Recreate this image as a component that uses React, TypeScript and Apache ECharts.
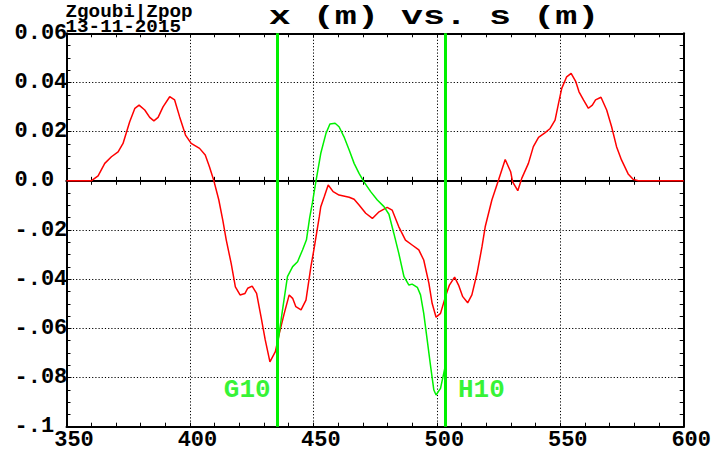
import React, { useEffect, useRef } from 'react';
import * as echarts from 'echarts';

// Horizontal orbit x (m) along the path length s (m)
const sRed = [
  350, 360, 362.8, 365.5, 368.2, 370.9, 372.9, 375.6, 377.7, 379.4, 381.7, 383.7, 385.4, 387.1,
  389.1, 391.8, 393.8, 395.8, 398.2, 400.5, 403.9, 406.2, 407.9, 409.7, 411.7, 413.3, 414.7,
  416.7, 418.4, 420.3, 422.3, 423.4, 425.2, 427.0, 428.8, 430.5, 432.4, 434.6, 436.2, 438.2,
  440.2, 441.6, 442.9, 445.0, 447.0, 449.0, 450.3, 452.4, 453.0, 454.4, 456.0, 458.0, 460.4,
  464.5, 466.5, 468.5, 471.2, 473.9, 476.6, 479.9, 481.9, 484.6, 487.3, 490.0, 492.7, 494.7,
  496.8, 498.1, 499.7, 501.5, 503.5, 505.1, 507.2, 508.8, 510.5, 512.5, 514.2, 516.3, 518.3,
  519.6, 522.3, 525.0, 527.7, 529.9, 530.7, 532.8, 534.4, 537.1, 539.1, 541.2, 543.9, 545.9,
  547.9, 549.3, 550.6, 552.6, 554.4, 556.3, 557.6, 559.4, 561.4, 563.0, 564.3, 566.5, 568.8,
  570.8, 572.8, 574.8, 577.5, 579.5, 581.6, 600,
];
const xRed = [
  0, 0, 0.002, 0.0071, 0.0098, 0.0118, 0.0152, 0.024, 0.0295, 0.0308, 0.0288, 0.0258, 0.0244, 0.0258,
  0.0301, 0.0342, 0.0329, 0.0261, 0.0186, 0.0152, 0.0132, 0.0105, 0.0057, 0.0, -0.0078, -0.016, -0.024,
  -0.0336, -0.0431, -0.0464, -0.0458, -0.0437, -0.0428, -0.0458, -0.0553, -0.0647, -0.0736, -0.0695, -0.062, -0.0539,
  -0.0464, -0.0478, -0.0512, -0.0525, -0.0485, -0.0349, -0.0275, -0.0146, -0.0105, -0.0065, -0.0017, -0.0044, -0.0058,
  -0.0067, -0.0075, -0.0098, -0.0132, -0.0153, -0.0126, -0.0108, -0.0119, -0.0187, -0.0241, -0.0261, -0.0281, -0.0322,
  -0.0417, -0.0498, -0.0555, -0.0539, -0.0471, -0.0424, -0.0392, -0.0424, -0.0471, -0.0496, -0.0464, -0.0376, -0.0268,
  -0.0187, -0.0078, 0.0003, 0.0087, 0.0037, -0.0004, -0.004, 0.001, 0.0071, 0.0139, 0.0177, 0.0196, 0.0213,
  0.0247, 0.0315, 0.0376, 0.0423, 0.0437, 0.0403, 0.0362, 0.0329, 0.0295, 0.0308, 0.0329, 0.034, 0.0288,
  0.022, 0.0139, 0.0085, 0.0028, 0.0006, 0, 0,
];

// Orbit between the two markers
const sGreen = [
  435.3, 437.5, 439.5, 441.6, 443.6, 445.6, 447.2, 448.5, 449.6, 451.0, 453.0, 455.1, 456.7, 458.8,
  460.4, 462.4, 464.5, 466.5, 468.5, 470.5, 473.2, 475.9, 478.6, 480.6, 482.6, 484.6, 486.7, 488.7,
  490.0, 492.1, 493.4, 494.7, 496.1, 497.5, 498.8, 499.7, 501.5, 502.8, 503.5,
];
const xGreen = [
  -0.068, -0.0525, -0.039, -0.0349, -0.0329, -0.0281, -0.024, -0.015, -0.009, -0.0004, 0.0112, 0.0193, 0.0231, 0.0234,
  0.022, 0.0179, 0.0125, 0.0071, 0.003, -0.0004, -0.0044, -0.0078, -0.0105, -0.0136, -0.0214, -0.0295, -0.039, -0.0424,
  -0.042, -0.0433, -0.0464, -0.0539, -0.0647, -0.0756, -0.0851, -0.0871, -0.0844, -0.0783, -0.0749,
];

// Element positions (s, m) and their names
const markerS = [435.3, 503.5];
const markerNames = ['G10', 'H10'];
const markerLabelX = -0.0852;

const sMin = 350;
const sMax = 600;
const sStep = 50;
const xMin = -0.1;
const xMax = 0.06;
const xStep = 0.02;
const xTickLabels = ['-.1', '-.08', '-.06', '-.04', '-.02', '0.0', '0.02', '0.04', '0.06'];

const titleText = 'x (m) vs. s (m)';
const stampLines = ['Zgoubi|Zpop', '13-11-2015'];

const MONO = "'Liberation Mono', 'DejaVu Sans Mono', monospace";
const RED = '#ff0000';
const GREEN = '#00f000';
const INK = '#000000';

export default function App() {
  const ref = useRef<HTMLDivElement>(null);

  useEffect(() => {
    if (!ref.current) return;
    const chart = echarts.init(ref.current, undefined, { renderer: 'svg' });

    const tickStyle = { lineStyle: { color: INK, width: 1 } };
    const border = { color: INK, width: 2 };
    const dotted = { color: '#000', width: 1, type: [1.2, 2] as number[] };

    const baseX = { type: 'value' as const, min: sMin, max: sMax, interval: sStep };
    const baseY = { type: 'value' as const, min: xMin, max: xMax, interval: xStep };

    chart.setOption({
      animation: false,
      backgroundColor: '#ffffff',
      grid: { left: 66.5, top: 33.3, width: 619, height: 393.4, containLabel: false },
      xAxis: [
        {
          ...baseX,
          position: 'bottom',
          axisLine: { show: true, onZero: false, lineStyle: border },
          axisTick: { show: true, inside: true, length: 4, ...tickStyle },
          minorTick: { show: true, splitNumber: 5, length: 4, ...tickStyle },
          axisLabel: {
            show: true,
            margin: 3,
            padding: [0, 0, 0, 15],
            color: INK,
            fontFamily: MONO,
            fontWeight: 'bold',
            fontSize: 22,
          },
          splitLine: { show: true, lineStyle: dotted },
        },
        {
          ...baseX,
          position: 'top',
          axisLine: { show: true, onZero: false, lineStyle: border },
          axisTick: { show: true, inside: true, length: 4, ...tickStyle },
          minorTick: { show: true, splitNumber: 5, length: 4, ...tickStyle },
          axisLabel: { show: false },
          splitLine: { show: false },
        },
        {
          ...baseX,
          position: 'bottom',
          axisLine: { show: true, onZero: true, onZeroAxisIndex: 0, lineStyle: border },
          axisTick: { show: true, inside: true, length: 4, ...tickStyle },
          minorTick: { show: true, splitNumber: 5, length: 4, ...tickStyle },
          axisLabel: { show: false },
          splitLine: { show: false },
        },
        {
          ...baseX,
          position: 'bottom',
          axisLine: { show: true, onZero: true, onZeroAxisIndex: 0, lineStyle: border },
          axisTick: { show: true, inside: false, length: 4, ...tickStyle },
          minorTick: { show: true, splitNumber: 5, length: 4, ...tickStyle },
          axisLabel: { show: false },
          splitLine: { show: false },
        },
      ],
      yAxis: [
        {
          ...baseY,
          position: 'left',
          axisLine: { show: true, onZero: false, lineStyle: border },
          axisTick: { show: true, inside: true, length: 5, ...tickStyle },
          minorTick: { show: true, splitNumber: 4, length: 4, ...tickStyle },
          axisLabel: {
            show: true,
            align: 'left',
            margin: 52,
            color: INK,
            fontFamily: MONO,
            fontWeight: 'bold',
            fontSize: 22,
            formatter: (v: number) => xTickLabels[Math.round((v - xMin) / xStep)] ?? '',
          },
          splitLine: { show: true, lineStyle: dotted },
        },
        {
          ...baseY,
          position: 'right',
          axisLine: { show: true, onZero: false, lineStyle: border },
          axisTick: { show: true, inside: true, length: 5, ...tickStyle },
          minorTick: { show: true, splitNumber: 4, length: 4, ...tickStyle },
          axisLabel: { show: false },
          splitLine: { show: false },
        },
      ],
      graphic: [
        {
          type: 'text',
          x: 434,
          y: 17.3,
          scaleX: 1.47,
          style: {
            text: titleText,
            fill: INK,
            fontFamily: MONO,
            fontWeight: 'bold',
            fontSize: 25,
            align: 'center',
            verticalAlign: 'middle',
          },
        },
        ...stampLines.map((line, i) => ({
          type: 'text',
          x: 65.5,
          y: 11.9 + i * 15.6,
          scaleX: 1.07,
          style: {
            text: line,
            fill: INK,
            fontFamily: MONO,
            fontWeight: 'bold',
            fontSize: 18,
            align: 'left',
            verticalAlign: 'middle',
          },
        })),
      ],
      series: [
        {
          type: 'line',
          xAxisIndex: 0,
          yAxisIndex: 0,
          data: sRed.map((s, i) => [s, xRed[i]]),
          showSymbol: false,
          symbol: 'none',
          lineStyle: { color: RED, width: 1.5 },
          z: 3,
        },
        {
          type: 'line',
          xAxisIndex: 0,
          yAxisIndex: 0,
          data: sGreen.map((s, i) => [s, xGreen[i]]),
          showSymbol: false,
          symbol: 'none',
          lineStyle: { color: GREEN, width: 1.5 },
          z: 3,
          markLine: {
            silent: true,
            symbol: ['none', 'none'],
            label: { show: false },
            lineStyle: { color: GREEN, width: 3, type: 'solid' },
            data: markerS.map((s) => ({ xAxis: s })),
          },
        },
        {
          type: 'scatter',
          xAxisIndex: 0,
          yAxisIndex: 0,
          symbolSize: 1,
          itemStyle: { color: 'rgba(0,0,0,0)' },
          silent: true,
          z: 5,
          label: {
            show: true,
            formatter: '{b}',
            color: GREEN,
            fontFamily: MONO,
            fontWeight: 'bold',
            fontSize: 26,
          },
          data: markerS.map((s, i) => ({
            name: markerNames[i],
            value: [s, markerLabelX],
            label: { position: i === 0 ? 'left' : 'right', distance: i === 0 ? 6 : 12 },
          })),
        },
      ],
    });

    return () => chart.dispose();
  }, []);

  return (
    <div
      ref={ref}
      style={{ position: 'fixed', left: 0, top: 0, width: 714, height: 453, background: '#fff' }}
    />
  );
}
